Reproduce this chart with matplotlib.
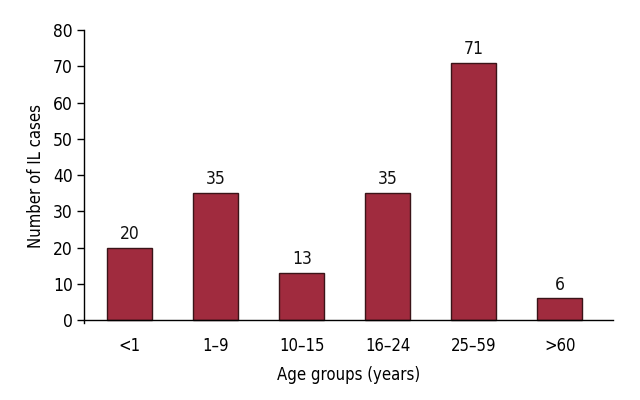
import matplotlib
matplotlib.use("Agg")
import matplotlib.pyplot as plt

categories = ["<1", "1\u20139", "10\u201315", "16\u201324", "25\u201359", ">60"]
values = [20, 35, 13, 35, 71, 6]
yticks = [0, 10, 20, 30, 40, 50, 60, 70, 80]

plt.rcParams['font.family'] = ['DejaVu Sans']
plt.rcParams['font.stretch'] = 'condensed'

fig = plt.figure(figsize=(6.4, 4.0), dpi=100)
ax = fig.add_axes([0.131, 0.1925, 0.827, 0.7325])

x = list(range(len(categories)))
bars = ax.bar(x, values, width=0.52, color="#A02B3E", edgecolor="#3a1418", linewidth=1.0, zorder=2)
for xi, v in zip(x, values):
    ax.text(xi, v + 1.3, str(v), ha="center", va="bottom", fontsize=12.5, color="#111111")

ax.set_xlim(-0.535, 5.62)
ax.set_ylim(-0.8, 80)
ax.spines['top'].set_visible(False)
ax.spines['right'].set_visible(False)
ax.spines['bottom'].set_position(('data', 0))
ax.spines['left'].set_bounds(-0.8, 80)
ax.spines['left'].set_linewidth(1.0)
ax.spines['bottom'].set_linewidth(1.0)
ax.set_yticks(yticks)
ax.set_xticks(x)
ax.set_xticklabels(categories)
ax.tick_params(axis='y', direction='out', length=5, width=1, labelsize=12.5, pad=3)
ax.tick_params(axis='x', length=0, labelsize=12, pad=12)
ax.set_ylabel("Number of IL cases", fontsize=12, labelpad=6)
ax.set_xlabel("Age groups (years)", fontsize=12, labelpad=8)

fig.savefig("out.png", dpi=100)
